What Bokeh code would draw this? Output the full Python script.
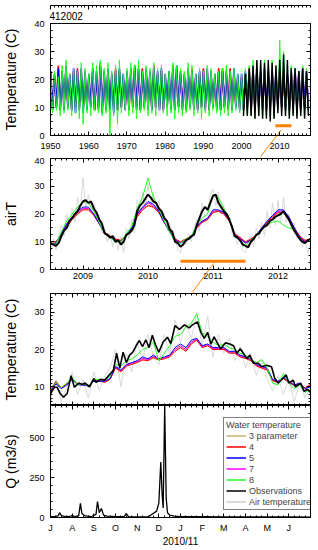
import math
from bokeh.plotting import figure
from bokeh.layouts import column
from bokeh.models import (Range1d, FixedTicker, LinearAxis, Title, Arrow,
                          NormalHead, Legend, LegendItem)
from bokeh.embed import file_html
from bokeh.resources import INLINE

FONT = "Liberation Sans"
ORANGE = "#ff8000"
NAN = float("nan")

# ---------------- data ----------------
station_id = "412002"
series_labels = ["3 parameter", "4", "5", "7", "8"]
series_colors = ["#c8b46e", "#ff0000", "#0000ff", "#ff00ff", "#22ff22"]
obs_label = "Observations"
air_label = "Air temperature"
obs_color = "black"
air_color = "#d9d9d9"

# Panel 1: 1950-2017, annual summer peak (Jan) and winter trough (Jul)
p1_years = list(range(1950, 2018))
m8_peak = [22, 23, 21, 25, 27, 22, 24, 23, 26, 24,
           22, 26, 25, 27, 24, 26, 23, 25, 27, 22,
           24, 26, 25, 27, 23, 25, 24, 26, 24, 25,
           22, 23, 26, 25, 24, 23, 26, 25, 22, 24,
           23, 25, 24, 22, 23, 24, 25, 23, 24, 22,
           22, 24, 25, 27, 26, 25, 27, 24, 27, 25,
           34, 30, 20, 25, 24, 23, 25, 24]
m8_trough = [8, 9, 7, 8, 9, 7, 8, 6, 4, 8,
             7, 9, 8, 7, 8, 0, 7, 4, 8, 9,
             7, 8, 6, 8, 9, 7, 8, 7, 9, 8,
             7, 8, 6, 8, 7, 8, 9, 7, 8, 6,
             8, 7, 9, 8, 7, 8, 7, 8, 9, 8,
             7, 8, 7, 6, 7, 6, 7, 7, 6, 9,
             9, 8, 7, 8, 7, 8, 7, 8]
m5_peak = [23, 22, 24, 23, 25, 22, 24, 23, 24, 23,
           22, 24, 23, 25, 23, 24, 22, 23, 24, 22,
           23, 24, 25, 24, 23, 24, 23, 24, 23, 24,
           22, 23, 24, 25, 23, 22, 24, 23, 22, 23,
           23, 24, 23, 22, 23, 24, 23, 23, 24, 22,
           22, 23, 23, 24, 24, 23, 24, 23, 23, 23,
           24, 22, 22, 23, 24, 23, 24, 23]
m5_trough = [9, 10, 9, 9, 10, 9, 8, 9, 8, 9,
             10, 9, 9, 8, 9, 9, 8, 9, 10, 9,
             9, 10, 9, 9, 10, 9, 9, 10, 9, 9,
             10, 9, 9, 10, 9, 9, 10, 9, 9, 10,
             9, 9, 10, 9, 9, 10, 9, 9, 10, 9,
             9, 10, 9, 9, 10, 9, 9, 10, 9, 10,
             10, 9, 9, 10, 9, 9, 10, 9]
m4_peak = [22, 21, 25, 22, 24, 21, 23, 24, 23, 22,
           21, 23, 22, 26, 22, 23, 21, 24, 23, 21,
           22, 23, 24, 23, 24, 23, 22, 25, 22, 23,
           21, 22, 25, 24, 22, 21, 23, 24, 21, 22,
           24, 23, 22, 21, 24, 23, 22, 24, 23, 21,
           21, 22, 24, 23, 23, 22, 23, 22, 22, 21,
           23, 21, 21, 22, 23, 22, 23, 22]
m4_trough = [10, 10, 9, 10, 10, 9, 10, 10, 9, 10,
             10, 9, 10, 10, 9, 10, 10, 9, 10, 10,
             9, 10, 10, 9, 10, 10, 9, 10, 10, 9,
             10, 10, 9, 10, 10, 9, 10, 10, 9, 10,
             10, 9, 10, 10, 9, 10, 10, 9, 10, 10,
             9, 10, 10, 9, 10, 10, 9, 10, 11, 10,
             10, 10, 9, 10, 10, 9, 10, 10]
obs1_years = list(range(2000, 2018))
obs1_trough = [7, 7, 7, 6, 7, 6, 6, 5, 6, 8, 7, 7, 6, 7, 6, 7, 6, 7]
obs1_peak = [22, 24, 25, 27, 27, 26, 27, 26, 25, 27, 29, 27, 24, 24, 23, 24, 23]  # 2001-2017

# Panel 2: Jul 2008 - Jul 2012
p2_start = 2008.5
obs2 = [9.5, 9.0, 8.5, 9.5, 12, 14, 15, 17.5, 18.5, 20, 21, 23,
        24.5, 25, 24, 24.5, 22, 20.5, 18, 16.5, 13, 12.5, 11.5, 12,
        10, 10.5, 9, 10, 12.5, 13, 14, 16, 21, 23, 24, 25.5,
        27, 26, 24.5, 24, 22, 21, 18.5, 17.5, 14.5, 13.5, 10, 9.5,
        8.2, 9, 10.5, 11, 12, 12.5, 16, 18.5, 21, 22.5, 21.5, 24,
        26.5, 27, 24, 22.5, 21, 20, 18, 15.5, 12, 11.5, 10.5, 9,
        8.5, 8, 10, 11, 12.5, 13, 14.5, 15.5, 16, 17.5, 18, 19,
        19.5, 20, 21, 19.5, 18, 16, 14, 12.5, 11, 10, 9.5, 10.5,
        11]
air2 = [6, 11, 7, 12, 16, 12, 20, 15, 22, 17, 26, 21,
        33, 22, 27, 21, 24, 18, 20, 13, 15, 10, 13, 8,
        12, 7, 12, 6, 15, 11, 18, 13, 25, 20, 28, 22,
        31, 23, 28, 21, 25, 18, 20, 15, 17, 11, 12, 7,
        6, 11, 9, 13, 10, 15, 18, 14, 24, 19, 20, 27,
        29, 23, 28, 20, 23, 18, 20, 13, 14, 9, 12, 7,
        6, 10, 12, 8, 15, 11, 17, 12, 21, 15, 24, 16,
        25, 17, 26, 17, 20, 14, 17, 11, 13, 8, 11, 6,
        9]
m3p_2 = [9.8, 9.8, 12.6, 15.8, 18.2, 20.2, 21.8, 21.6, 19.6, 16.4, 13.4, 11.8,
         10.8, 10.4, 12.4, 14.6, 19.2, 21.6, 23.2, 22.6, 20.6, 17, 13.8, 10.8,
         9.8, 10.8, 11.8, 15, 17, 18, 20.6, 21, 20, 17.6, 12.8, 11.4,
         9.9, 10.8, 12.4, 14.6, 17, 19, 20.6, 20.6, 18.6, 15, 11.8, 10.4, 11]
m4_2 = [10, 10, 12.5, 15.5, 18, 20, 21.5, 21.5, 19.5, 16.5, 13.5, 12,
        11, 10.5, 12.5, 14.5, 19, 21.5, 23, 22.5, 20.5, 17, 14, 11,
        10, 11, 12, 15, 17, 18, 20.5, 21, 20, 17.5, 13, 11.5,
        10, 11, 12.5, 14.5, 17, 19, 20.5, 20.5, 18.5, 15, 12, 10.5, 11]
m5_2 = [9, 9.5, 13, 16.5, 19, 21, 22.5, 22.5, 20, 16.5, 13, 11.5,
        10.5, 10, 12.5, 15, 20, 22.5, 24.5, 23.5, 21, 17, 13.5, 10.5,
        9.5, 10.5, 11.5, 15.5, 17.5, 18.5, 21.5, 21.5, 20.5, 18, 12.5, 11,
        9.5, 10.5, 12.5, 15, 17.5, 19.5, 21.5, 21.5, 19, 15, 11.5, 10, 11]
m7_2 = [9.2, 9.6, 12.8, 16.2, 18.6, 20.6, 22, 22, 19.8, 16.5, 13.2, 11.6,
        10.6, 10.2, 12.4, 14.8, 19.6, 22, 24, 23, 20.8, 17, 13.6, 10.8,
        9.8, 10.6, 11.6, 15.2, 17.2, 18.2, 21, 21.2, 20.2, 17.8, 12.6, 11.2,
        9.8, 10.6, 12.4, 14.8, 17.2, 19.2, 21, 21, 18.8, 15, 11.8, 10.2, 11]
m8_2 = [9.5, 9, 13.5, 17.5, 20, 22.5, 24.5, 24, 21, 17, 13, 11.5,
        10, 10, 13, 15.5, 22, 26, 33, 26, 22, 17.5, 13.5, 10,
        9.5, 11, 12, 16, 18.5, 20, 27, 26, 22, 18.5, 12, 10.5,
        8.5, 10.5, 12.5, 14.5, 16.5, 17, 17.5, 16, 15, 14.5, 11, 9.5, 11]

# Panel 3: Jul 2010 - Jun 2011 (months since 1 July 2010)
t3 = [0.25 * k for k in range(49)]
air3 = [7, 12, 6, 10, 14, 8, 12, 7, 14, 9, 13, 15,
        20, 10, 19, 14, 22, 17, 24, 18, 16, 24, 19, 28,
        22, 27, 23, 30, 21, 29, 18, 24, 19, 23, 17, 21,
        15, 19, 13, 17, 12, 9, 13, 8, 12, 6, 11, 7, 10]
m3p_3 = [9.1, 11.3, 9.7, 10.7, 12.2, 10.7, 10.6, 10.3, 11.6, 11.6, 11.3, 12.1,
         15.2, 14.2, 15.6, 16.1, 16.6, 17.4, 17.1, 18, 17.3, 17.6, 18.1, 19.8,
         20.8, 19.8, 21.8, 22.6, 20.6, 21.1, 20.1, 20.1, 20.1, 19.1, 19.1, 18.1,
         17.7, 17.1, 15.7, 15.1, 14.6, 11.7, 11.2, 12.2, 11.2, 10.4, 10.8, 9.6, 10.5]
m4_3 = [9.2, 11.5, 9.8, 10.8, 12.3, 10.8, 10.6, 10.4, 11.6, 11.6, 11.2, 12,
        15, 14, 15.5, 16, 16.5, 17.2, 17, 17.8, 17.2, 17.5, 18, 19.5,
        20.5, 19.5, 21.5, 22.5, 20.5, 21, 20, 20, 20, 19, 19, 18,
        17.6, 17, 15.6, 15, 14.5, 11.6, 11.2, 12.2, 11.2, 10.4, 10.8, 9.6, 10.8]
m5_3 = [8.8, 10.8, 9.5, 10.5, 12, 10.6, 10.5, 10.2, 11.5, 11.5, 11.5, 12.2,
        15.5, 14.5, 16, 16.5, 17, 18, 17.5, 18.5, 17.5, 18, 18.5, 20.5,
        21.5, 20.5, 22.5, 23, 21, 21.5, 20.5, 20.5, 20.5, 19.5, 19.5, 18.5,
        18, 17.5, 16, 15.5, 15, 12, 11.5, 12.5, 11.5, 10.5, 11, 9.5, 10]
m7_3 = [9, 11, 9.6, 10.6, 12, 10.6, 10.5, 10.3, 11.5, 11.5, 11.4, 12.1,
        15.3, 14.3, 15.8, 16.3, 16.8, 17.6, 17.3, 18.2, 17.3, 17.8, 18.3, 20,
        21, 20, 22, 22.8, 20.8, 21.3, 20.3, 20.3, 20.3, 19.3, 19.3, 18.3,
        17.8, 17.3, 15.8, 15.3, 14.8, 11.8, 11.3, 12.3, 11.3, 10.4, 10.9, 9.5, 10.2]
m8_3 = [9.5, 11.2, 9.8, 11, 12.5, 10.5, 10.8, 10.2, 12, 12, 11.8, 12.8,
        16, 15.5, 17, 17.5, 18.5, 20, 20.5, 22, 17, 19, 21, 23.5,
        24, 26, 27, 29.5, 24.5, 23.5, 22, 21, 21.5, 20.5, 20, 19,
        18.5, 17.5, 16.5, 17.3, 15, 11, 10.5, 13.5, 11, 9.5, 10.5, 8.5, 9.5]
t3_obs = [0, 0.18, 0.3, 0.45, 0.6, 0.77, 0.95, 1.1, 1.3, 1.45,
          1.6, 1.8, 2.0, 2.1, 2.3, 2.5, 2.7, 2.9, 3.05, 3.2,
          3.35, 3.5, 3.65, 3.8, 3.95, 4.1, 4.25, 4.4, 4.55, 4.7,
          4.85, 5.0, 5.2, 5.4, 5.55, 5.75, 5.95, 6.18, 6.4, 6.55,
          6.78, 6.94, 7.1, 7.25, 7.4, 7.55, 7.7, 7.85, 8.08, 8.3,
          8.45, 8.6, 8.76, 8.9, 9.06, 9.2, 9.36, 9.59, 9.74, 9.97,
          10.2, 10.35, 10.5, 10.65, 10.88, 11.0, 11.2, 11.3, 11.55, 11.7,
          11.85, 12.0]
obs3 = [8.2, 9.9, 9.9, 8.2, 7.2, 8.2, 13, 9.9, 11, 10.6,
        11, 10, 12.2, 11.2, 12, 11.8, 13.1, 14.4, 19, 15,
        19.3, 16.5, 18.5, 19.3, 21, 22.4, 20.8, 22.6, 20.5, 23.8,
        21.2, 19.3, 22, 23.3, 21.6, 26.4, 25.4, 26.6, 25.8, 26.6,
        27.4, 24.6, 23, 24.6, 21.4, 23.4, 21.8, 20.2, 21.8, 21.4,
        21, 19, 20.2, 19, 17.6, 18.5, 16.3, 16.3, 15.4, 15.8,
        15.4, 12.3, 11, 11.8, 13.2, 11, 11.8, 10, 11, 8.8,
        9.3, 8.5]

# Panel 4: discharge Q (m3/s)
q_t = [0, 0.2, 0.35, 0.42, 0.5, 0.7, 0.95, 1.0, 1.1, 1.3,
       1.38, 1.45, 1.6, 1.9, 2.1, 2.17, 2.25, 2.35, 2.45, 2.6,
       3.0, 3.4, 3.5, 3.6, 4.0, 4.5, 4.9, 5.0, 5.09, 5.15,
       5.2, 5.27, 5.34, 5.4, 5.5, 5.7, 6.0, 7.0, 8.0, 9.0,
       10.0, 11.0, 12.0]
q_v = [5, 6, 10, 30, 12, 6, 8, 15, 6, 10,
       88, 25, 10, 6, 20, 100, 30, 56, 15, 8,
       5, 6, 25, 5, 4, 3, 40, 90, 346, 150,
       60, 700, 120, 30, 15, 8, 6, 5, 4, 3,
       3, 3, 2]

month_labels = ["J", "A", "S", "O", "N", "D", "J", "F", "M", "A", "M", "J"]
season_label = "2010/11"

# zoom windows shown by orange bars, and where their arrows start / point
bar1_range = (2008.9, 2013.1)
bar1_level = 3.5
arrow1 = (2010.53, 2.1, 2005.05, -7.5)
bar2_range = (2010.5, 2011.5)
bar2_level = 3.0
arrow2 = (2011.01, 2.2, 2010.68, -8.3)

# ---------------- layout geometry ----------------
W = 318
BL, BR = 49, 8
FW = W - BL - BR


# ---------------- helpers ----------------
def zigzag(years, peaks, troughs):
    xs, ys = [], []
    for y, pk, tr in zip(years, peaks, troughs):
        xs += [y + 0.05, y + 0.55]
        ys += [pk, tr]
    return xs, ys


def base_style(ax):
    ax.axis_line_color = "black"
    ax.major_tick_line_color = "black"
    ax.minor_tick_line_color = "black"
    ax.major_tick_out = 0
    ax.minor_tick_out = 0
    ax.major_label_text_font = FONT
    ax.major_label_text_color = "black"
    ax.axis_label_text_font = FONT
    ax.axis_label_text_font_style = "normal"
    ax.axis_label_text_color = "black"


def labelled_axis(p, side, major, minor, standoff=6, size="9px", overrides=None,
                  label="", label_size="14px", label_standoff=12):
    ax = LinearAxis(ticker=FixedTicker(ticks=major, minor_ticks=minor))
    base_style(ax)
    ax.major_tick_in = 4
    ax.minor_tick_in = 2
    ax.major_label_text_font_size = size
    ax.major_label_standoff = standoff
    if overrides:
        ax.major_label_overrides = overrides
    if label:
        ax.axis_label = label
        ax.axis_label_text_font_size = label_size
        ax.axis_label_standoff = label_standoff
    p.add_layout(ax, side)
    return ax


def tick_axes(p, side, major, minor):
    # tick marks only (no labels): one axis for long ticks, one for short ticks
    for pos, length in ((major, 4), (minor, 2)):
        ax = LinearAxis(ticker=FixedTicker(ticks=[], minor_ticks=pos))
        base_style(ax)
        ax.major_tick_in = 0
        ax.minor_tick_in = length
        ax.major_label_standoff = 0
        p.add_layout(ax, side)


def make_fig(height, xr, yr, top, bottom):
    p = figure(width=W, height=height, x_range=Range1d(*xr), y_range=Range1d(*yr),
               output_backend="svg", toolbar_location=None,
               x_axis_location=None, y_axis_location=None,
               min_border_left=BL, min_border_right=BR,
               min_border_top=top, min_border_bottom=bottom)
    p.grid.visible = False
    p.outline_line_color = "black"
    p.outline_line_width = 1
    p.outline_line_alpha = 1
    p.background_fill_color = "white"
    p.border_fill_color = "white"
    return p


def zoom_arrow(p, x0, y0, x1, y1, kx, ky):
    length = math.hypot((x1 - x0) * kx, (y1 - y0) * ky)
    # part inside the frame
    p.line([x0, x1], [y0, y1], color=ORANGE, line_width=1)
    # part outside the frame: the body is shown inside the (invisible) head region
    p.add_layout(Arrow(end=NormalHead(size=length + 2, fill_alpha=0, line_alpha=0),
                       x_start=x0, y_start=y0, x_end=x1, y_end=y1,
                       line_color=ORANGE, line_width=1))
    # visible tip
    p.add_layout(Arrow(end=NormalHead(size=6, fill_color=ORANGE, line_color=ORANGE),
                       x_start=x0, y_start=y0, x_end=x1, y_end=y1, line_alpha=0))


temp_major = [0, 10, 20, 30, 40]
temp_minor = [2.5 * k for k in range(17)]

# ---------------- panel 1 ----------------
H1, T1, B1 = 157, 23, 22
X1 = (1950, 2018.1)
p1 = make_fig(H1, X1, (0, 40), T1, B1)
p1.add_layout(Title(text=station_id, align="left", text_font=FONT,
                    text_font_size="10px", text_font_style="normal",
                    text_color="black", standoff=8, offset=-1), "above")
yr_major = list(range(1950, 2020, 10))
yr_minor = list(range(1950, 2019))
labelled_axis(p1, "below", yr_major, yr_minor, standoff=7)
labelled_axis(p1, "left", temp_major, temp_minor, label="Temperature (C)")
tick_axes(p1, "above", yr_major, yr_minor)
tick_axes(p1, "right", temp_major, temp_minor)
x, y = zigzag(p1_years, m4_peak, m4_trough)
p1.line(x, y, color=series_colors[1], line_width=1.6)
x, y = zigzag(p1_years, m5_peak, m5_trough)
p1.line(x, y, color=series_colors[2], line_width=1.6)
x, y = zigzag(p1_years, m8_peak, m8_trough)
p1.line(x, y, color=series_colors[4], line_width=1)
ox, oy = [], []
for i, yr in enumerate(obs1_years):
    ox.append(yr + 0.55)
    oy.append(obs1_trough[i])
    if i < len(obs1_peak):
        ox.append(yr + 1.05)
        oy.append(obs1_peak[i])
p1.line(ox, oy, color=obs_color, line_width=1.4)
p1.line(list(bar1_range), [bar1_level, bar1_level], color=ORANGE, line_width=3)
zoom_arrow(p1, *arrow1, FW / (X1[1] - X1[0]), (H1 - T1 - B1) / 40)

# ---------------- panel 2 ----------------
H2, T2, B2 = 136, 1, 24
X2 = (2008.5, 2012.5)
p2 = make_fig(H2, X2, (0, 40), T2, B2)
y2_major = [2009, 2010, 2011, 2012]
y2_minor = [2008.5 + k / 12 for k in range(49)]
labelled_axis(p2, "below", y2_major, y2_minor, standoff=3)
labelled_axis(p2, "left", temp_major, temp_minor, label="airT")
tick_axes(p2, "above", y2_major, y2_minor)
tick_axes(p2, "right", temp_major, temp_minor)
t2 = [p2_start + k / 24 for k in range(len(obs2))]
tm2 = [p2_start + k / 12 for k in range(len(m4_2))]
p2.line(t2, air2, color=air_color, line_width=1)
for vals, c in ((m3p_2, series_colors[0]), (m7_2, series_colors[3]),
                (m4_2, series_colors[1]), (m5_2, series_colors[2]),
                (m8_2, series_colors[4])):
    p2.line(tm2, vals, color=c, line_width=1)
p2.line(t2, obs2, color=obs_color, line_width=2)
p2.line(list(bar2_range), [bar2_level, bar2_level], color=ORANGE, line_width=3)
zoom_arrow(p2, *arrow2, FW / (X2[1] - X2[0]), (H2 - T2 - B2) / 40)

# ---------------- panel 3 ----------------
p3 = make_fig(112, (0, 12), (5, 35), 0, 0)
mo_major = list(range(13))
mo_minor = [0.25 * k for k in range(49)]
labelled_axis(p3, "left", [10, 20, 30], list(range(5, 36)), label="Temperature (C)")
tick_axes(p3, "below", mo_major, mo_minor)
tick_axes(p3, "above", mo_major, mo_minor)
tick_axes(p3, "right", [10, 20, 30], list(range(5, 36)))
p3.line(t3, air3, color=air_color, line_width=1)
for vals, c in ((m3p_3, series_colors[0]), (m7_3, series_colors[3]),
                (m4_3, series_colors[1]), (m5_3, series_colors[2]),
                (m8_3, series_colors[4])):
    p3.line(t3, vals, color=c, line_width=1)
p3.line(t3_obs, obs3, color=obs_color, line_width=1.6)

# ---------------- panel 4 ----------------
p4 = make_fig(145, (0, 12), (0, 700), 0, 33)
labelled_axis(p4, "below", list(range(12)), mo_minor, standoff=5,
              overrides={i: m for i, m in enumerate(month_labels)},
              label=season_label, label_size="10px", label_standoff=0)
labelled_axis(p4, "left", [0, 250, 500], list(range(0, 701, 50)),
              label="Q (m3/s)", label_standoff=7)
tick_axes(p4, "above", mo_major, mo_minor)
tick_axes(p4, "right", [0, 250, 500], list(range(0, 701, 50)))
p4.line(q_t, q_v, color="black", line_width=1.3)

items = []
for lab, c in zip(series_labels, series_colors):
    r = p4.line([NAN], [NAN], color=c, line_width=1.5)
    items.append(LegendItem(label=lab, renderers=[r]))
r = p4.line([NAN], [NAN], color=obs_color, line_width=1.5)
items.append(LegendItem(label=obs_label, renderers=[r]))
r = p4.line([NAN], [NAN], color=air_color, line_width=2)
items.append(LegendItem(label=air_label, renderers=[r]))
leg = Legend(items=items, location=(173, 7), title="Water temperature",
             title_text_font=FONT, title_text_font_size="9px",
             title_text_font_style="normal", title_standoff=-5,
             label_text_font=FONT, label_text_font_size="9px",
             glyph_width=20, glyph_height=11, label_height=11,
             label_standoff=3, spacing=0, padding=2, margin=0,
             border_line_color="black", border_line_width=1,
             background_fill_color="white", background_fill_alpha=1)
p4.add_layout(leg)

layout = column(p1, p2, p3, p4, spacing=0)
open("out.html", "w").write(file_html(layout, INLINE))
